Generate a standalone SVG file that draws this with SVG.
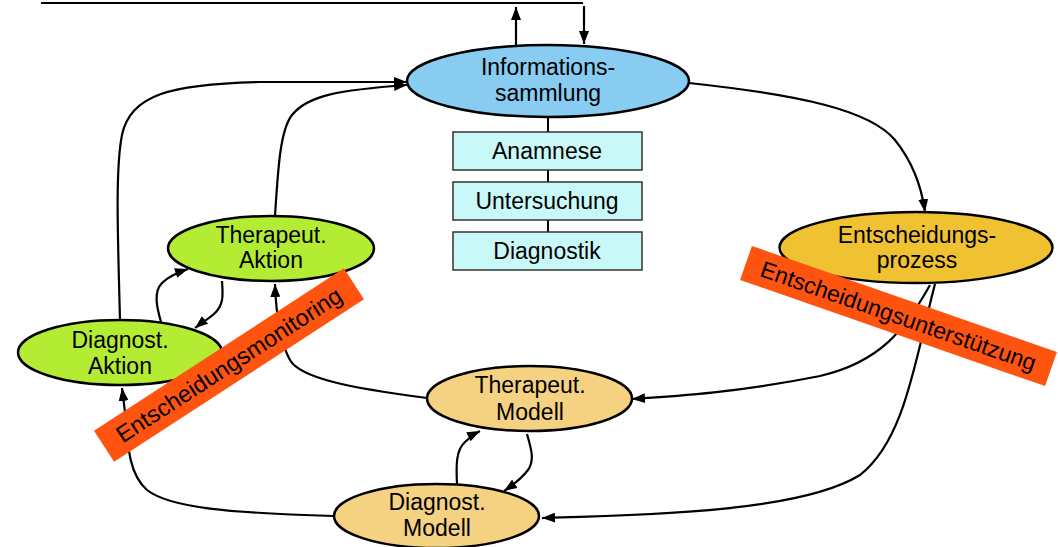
<svg xmlns="http://www.w3.org/2000/svg" width="1058" height="547" viewBox="0 0 1058 547">
<defs>
<style>
.node ellipse{stroke:#000;stroke-width:2.5}
.t{font-family:"Liberation Sans",Arial,sans-serif;font-size:23px;fill:#000;text-anchor:middle}
.box rect{fill:#C8F8F8;stroke:#333;stroke-width:1.5}
.c path,.c line{fill:none;stroke:#000;stroke-width:2.2}
.arr{marker-end:url(#ah)}
.banner rect{fill:#FF5310}
.bt{font-family:"Liberation Sans",Arial,sans-serif;font-size:23px;fill:#000;text-anchor:middle}
</style>
<marker id="ah" markerUnits="userSpaceOnUse" markerWidth="14" markerHeight="10" refX="13" refY="5" orient="auto">
<path d="M0,0 L13,5 L0,10 z" fill="#000"/>
</marker>
</defs>
<rect width="1058" height="547" fill="#fff"/>

<g id="node-info" class="node">
<ellipse cx="548" cy="81" rx="141" ry="36" fill="#88CCF2"/>
<text class="t" x="548" y="75">Informations-</text>
<text class="t" x="548" y="101">sammlung</text>
</g>
<g id="node-anamnese" class="box">
<line x1="548" y1="117" x2="548" y2="232" stroke="#000" stroke-width="2"/>
<rect x="453" y="132" width="189" height="38"/>
<text class="t" x="547" y="159">Anamnese</text>
</g>
<g id="node-untersuchung" class="box">
<rect x="453" y="182" width="189" height="38"/>
<text class="t" x="547" y="209">Untersuchung</text>
</g>
<g id="node-diagnostik" class="box">
<rect x="453" y="232" width="189" height="38"/>
<text class="t" x="547" y="259">Diagnostik</text>
</g>
<g id="node-entscheidung" class="node">
<ellipse cx="916" cy="247.5" rx="136.5" ry="35.5" fill="#F0C232"/>
<text class="t" x="917" y="243">Entscheidungs-</text>
<text class="t" x="917" y="268">prozess</text>
</g>
<g id="node-ther-aktion" class="node">
<ellipse cx="271" cy="248.5" rx="103" ry="32.5" fill="#B4EC34"/>
<text class="t" x="271" y="243">Therapeut.</text>
<text class="t" x="271" y="268">Aktion</text>
</g>
<g id="node-diag-aktion" class="node">
<ellipse cx="120" cy="352.5" rx="102" ry="32.5" fill="#B4EC34"/>
<text class="t" x="120" y="348">Diagnost.</text>
<text class="t" x="120" y="374">Aktion</text>
</g>
<g id="node-ther-modell" class="node">
<ellipse cx="529.5" cy="398.5" rx="102.5" ry="32.5" fill="#F5D282"/>
<text class="t" x="530" y="393">Therapeut.</text>
<text class="t" x="530" y="420">Modell</text>
</g>
<g id="node-diag-modell" class="node">
<ellipse cx="436.5" cy="516" rx="102.5" ry="32" fill="#F5D282"/>
<text class="t" x="437" y="510">Diagnost.</text>
<text class="t" x="437" y="536">Modell</text>
</g>

<g id="connectors" class="c">
<line x1="41" y1="3" x2="583" y2="3" stroke-width="1.5"/>
<path class="arr" d="M516,45 L516,7"/>
<path class="arr" d="M584,6 L584,44"/>
<path class="arr" d="M689,83 C800,95 870,110 895,140 C915,165 922,190 925,212"/>
<path class="arr" d="M120,320 C118,240 115,170 122,135 C130,95 170,84 260,82 L407,82"/>
<path class="arr" d="M275,216 C278,170 280,130 292,115 C308,95 340,90 407,85"/>
<path class="arr" d="M161,322 C157,308 153,292 162,283 C168,277 176,273 188,269"/>
<path class="arr" d="M222,281 C223,295 224,305 214,314 C207,320 200,324 195,328"/>
<path class="arr" d="M427,398 C350,388 300,378 290,360 C283,348 276,320 275,284"/>
<path class="arr" d="M334,516 C230,513 170,508 147,490 C130,475 128,450 126,420 L122,388"/>
<path class="arr" d="M457,484 C456,465 456,450 465,442 C470,437 474,434 480,431"/>
<path class="arr" d="M527,434 C531,448 535,460 528,470 C522,478 513,485 504,491"/>
<path class="arr" d="M930,285 C905,330 880,362 820,376 C740,392 680,396 632,399"/>
<path class="arr" d="M935,284 C915,360 905,440 860,475 C800,512 650,515 542,518"/>
</g>

<g id="banner-monitoring" class="banner" transform="translate(229,365) rotate(-33)">
<rect x="-149" y="-18.5" width="298" height="37"/>
<text class="bt" x="0" y="8" style="font-size:23.5px">Entscheidungsmonitoring</text>
</g>
<g id="banner-unterstuetzung" class="banner" transform="translate(898.5,316) rotate(19.2)">
<rect x="-161.5" y="-18" width="323" height="36"/>
<text class="bt" x="0" y="8">Entscheidungsunterstützung</text>
</g>
</svg>
